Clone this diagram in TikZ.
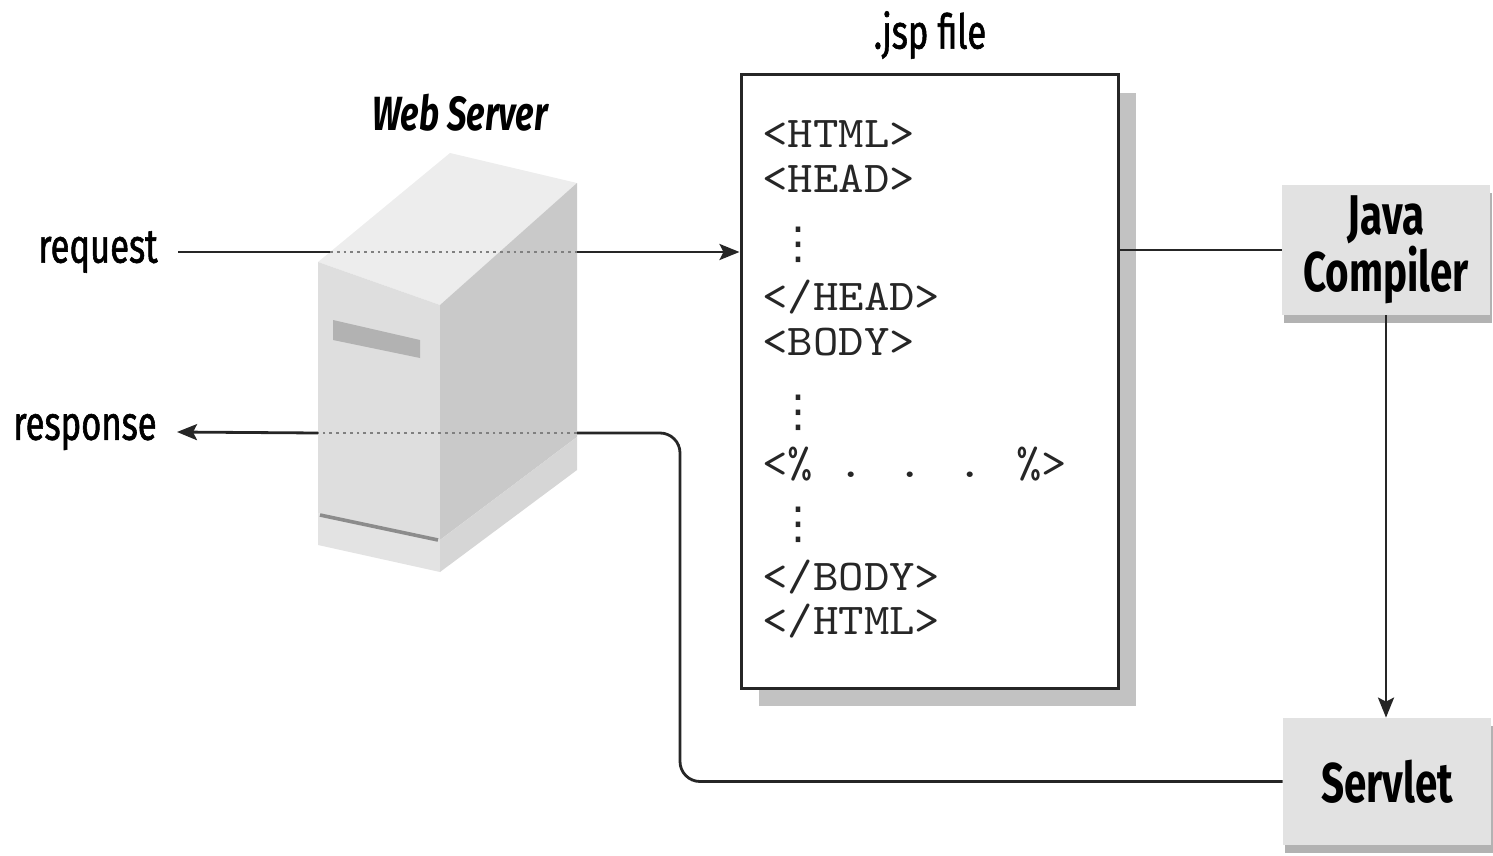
\documentclass[tikz,border=0pt]{standalone}
\usepackage{fontspec}
\usepackage{tikz}
\usetikzlibrary{positioning, arrows.meta, shadows}
\newfontfamily\labelfont[FakeStretch=0.72, FakeBold=1.2]{Fira Sans}
\newfontfamily\boxfont[FakeStretch=0.72]{Fira Sans}
\newfontfamily\codefont[FakeStretch=1.1]{lmmono10-regular.otf}
\newfontfamily\dotfont{DejaVu Sans}
\newcommand{\vdotline}{\hspace*{7pt}{\dotfont ⋮}}
\definecolor{boxgray}{HTML}{E2E2E2}
\tikzset{>={Stealth[length=10pt, width=8pt, inset=2pt]},
  caption/.style={font=\labelfont\fontsize{24}{26}\selectfont, inner sep=2pt},
  endlabel/.style={caption, inner xsep=10pt},
  procbox/.style={fill=boxgray, minimum width=104pt, minimum height=65pt, align=center,
    font=\boxfont\bfseries\fontsize{28}{26.5}\selectfont,
    drop shadow={shadow xshift=1pt, shadow yshift=-4pt, fill=black!30, opacity=1}},
  jspbox/.style={draw=black!85, line width=1.5pt, fill=white, minimum width=188.5pt, minimum height=306.5pt,
    drop shadow={shadow xshift=9pt, shadow yshift=-9pt, fill=black!40, opacity=0.6}},
  codeline/.style={anchor=base west, inner sep=0pt, font=\codefont\fontsize{22}{22}\selectfont, text=black!85},
  wire/.style={line width=1.4pt, draw=black!85},
  hiddenwire/.style={dotted, line width=1.4pt, draw=black!50}}

\begin{document}
\begin{tikzpicture}[x=0.5pt, y=-0.5pt]
    \useasboundingbox (0,0) rectangle (1493,856);

    % web server
    \fill[black!7]  (318,262) -- (450,153) -- (577,183) -- (440,305) -- cycle;
    \fill[black!13] (318,262) -- (440,305) -- (440,540) -- (318,513) -- cycle;
    \fill[black!21] (440,305) -- (577,183) -- (577,437) -- (440,540) -- cycle;
    \fill[black!11] (318,513) -- (440,540) -- (440,572) -- (318,545) -- cycle;
    \fill[black!16] (440,540) -- (577,437) -- (577,470) -- (440,572) -- cycle;
    \draw[black!45, line width=1.8pt] (320,515) -- (438,540);
    \fill[black!30] (333,320) -- (420,340) -- (420,358) -- (333,340) -- cycle;
    \node[caption, font=\boxfont\bfseries\itshape\fontsize{24}{26}\selectfont] (wstitle) at (460,113) {Web Server};

    \coordinate (srvinl) at (330,252);
    \coordinate (srvinr) at (577,252);
    \coordinate (srvoutr) at (577,433);
    \coordinate (srvoutl) at (318,433);
    \coordinate (turn) at (680,433);

    % jsp file
    \node[jspbox] (jsp) at (929.5,381.5) {};
    \node[caption] (jsptitle) at (930,35) {.jsp file};
    \foreach \txt/\y [count=\i] in {{<HTML>}/148, {<HEAD>}/192, {\vdotline}/258,
        {</HEAD>}/310, {<BODY>}/355, {\vdotline}/426, {<\% . . . \%>}/477,
        {\vdotline}/538, {</BODY>}/590, {</HTML>}/634}
        \node[codeline] (line\i) at (762,\y) {\txt};

    \node[procbox] (compiler) at (1386,250) {Java\\Compiler};
    \node[procbox, minimum height=63.5pt] (servlet) at (1387,781.5) {Servlet};

    \node[endlabel] (request) at (98,252) {request};
    \node[endlabel] (response) at (85,432) {response};

    \draw[wire] (request.east) -- (srvinl);
    \draw[hiddenwire] (srvinl) -- (srvinr);
    \draw[wire, ->] (srvinr) -- (jsp.west |- request);
    \draw[wire] (jsp.east |- compiler) -- (compiler.west);
    \draw[wire, ->] (compiler.south) -- (compiler.south |- servlet.north);
    \draw[wire, rounded corners=10pt] (servlet.west) -| (turn) -- (srvoutr);
    \draw[hiddenwire] (srvoutr) -- (srvoutl);
    \draw[wire, ->] (srvoutl) -- (response.east);
\end{tikzpicture}
\end{document}
